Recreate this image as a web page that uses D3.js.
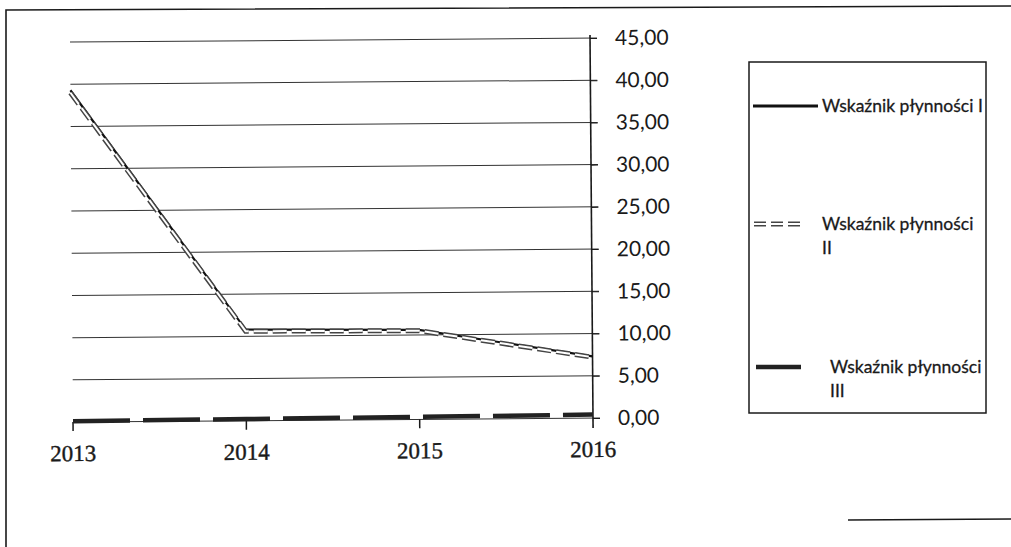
<!DOCTYPE html>
<html>
<head>
<meta charset="utf-8">
<script src="https://cdn.jsdelivr.net/npm/d3@7"></script>
<style>
  html, body { margin: 0; padding: 0; background: #fff; }
  svg { display: block; }
</style>
</head>
<body>
<svg id="chart" width="1011" height="547"></svg>
<script>
// Liquidity ratios, 2013–2016
const years = ["2013", "2014", "2015", "2016"];
const ratioI = [39.3, 10.8, 10.6, 7.3];
const ratioII = [39.0, 10.6, 10.5, 7.2];
const ratioIII = [0.1, 0.2, 0.3, 0.4];
const yTicks = [0, 5, 10, 15, 20, 25, 30, 35, 40, 45];
const seriesNames = ["Wskaźnik płynności I", "Wskaźnik płynności II", "Wskaźnik płynności III"];

const svg = d3.select("#chart");
const ink = "#1a1a1a";

// outer frame of the chart object
svg.append("path")
  .attr("d", "M6,547 L6,10 L1011,6")
  .attr("fill", "none").attr("stroke", ink).attr("stroke-width", 1.6);
svg.append("line")
  .attr("x1", 848).attr("x2", 1011).attr("y1", 520).attr("y2", 519)
  .attr("stroke", ink).attr("stroke-width", 1.4);

const x = d3.scalePoint().domain(years).range([73, 593]);
const y = d3.scaleLinear().domain([0, 45]).range([418, 38]);

// the plot sits slightly tilted on the page
const plot = svg.append("g").attr("transform", "rotate(-0.45, 593, 418)");

// horizontal gridlines
plot.append("g").selectAll("line").data(yTicks).join("line")
  .attr("x1", 73).attr("x2", 600)
  .attr("y1", d => y(d)).attr("y2", d => y(d))
  .attr("stroke", "#333").attr("stroke-width", 1);

// value axis on the right
const yAxis = plot.append("g").attr("transform", "translate(593,0)")
  .call(d3.axisRight(y).tickValues(yTicks).tickSize(7).tickPadding(18)
    .tickFormat(d => d3.format(".2f")(d).replace(".", ",")));
yAxis.select(".domain").remove();
yAxis.selectAll("line").attr("stroke", ink);
yAxis.selectAll("text")
  .attr("font-family", "Lato, 'Open Sans', sans-serif")
  .attr("font-size", 21).attr("fill", ink);
plot.append("line")
  .attr("x1", 593).attr("x2", 593).attr("y1", y(45) - 3).attr("y2", 428)
  .attr("stroke", ink).attr("stroke-width", 1.6);

// category ticks and labels
plot.append("g").selectAll("line").data(years.slice(0, 3)).join("line")
  .attr("x1", d => x(d)).attr("x2", d => x(d))
  .attr("y1", y(0)).attr("y2", y(0) + 9)
  .attr("stroke", ink).attr("stroke-width", 1.5);
plot.append("g").selectAll("text").data(years).join("text")
  .attr("x", d => x(d))
  .attr("y", 457)
  .attr("text-anchor", "middle")
  .attr("font-family", "'Liberation Serif', serif")
  .attr("font-size", 23).attr("fill", ink)
  .attr("stroke", ink).attr("stroke-width", 0.4)
  .text(d => d);

const line = d3.line().x((d, i) => x(years[i])).y(d => y(d));

// series III: thick long dashes along the base
plot.append("path").datum(ratioIII)
  .attr("d", line).attr("fill", "none")
  .attr("stroke", "#222").attr("stroke-width", 4.5)
  .attr("stroke-dasharray", "57,13");

// series I: solid dark line
plot.append("path").datum(ratioI)
  .attr("d", line).attr("fill", "none")
  .attr("stroke", "#111").attr("stroke-width", 2.2);

// series II: hollow dashes
plot.append("path").datum(ratioII)
  .attr("d", line).attr("fill", "none")
  .attr("stroke", "#444").attr("stroke-width", 5)
  .attr("stroke-dasharray", "14,5");
plot.append("path").datum(ratioII)
  .attr("d", line).attr("fill", "none")
  .attr("stroke", "#fff").attr("stroke-width", 2)
  .attr("stroke-dasharray", "14,5");

// legend
const lg = svg.append("g");
lg.append("rect")
  .attr("x", 749).attr("y", 62).attr("width", 237).attr("height", 351)
  .attr("fill", "none").attr("stroke", ink).attr("stroke-width", 1.5);

const legendFont = "Lato, 'Open Sans', sans-serif";
const items = [
  { name: seriesNames[0], y: 106, lines: ["Wskaźnik płynności I"], tx: 822 },
  { name: seriesNames[1], y: 224, lines: ["Wskaźnik płynności", "II"], tx: 822 },
  { name: seriesNames[2], y: 367, lines: ["Wskaźnik płynności", "III"], tx: 830 }
];

// sample I
lg.append("line").attr("x1", 753).attr("x2", 818).attr("y1", 106).attr("y2", 106)
  .attr("stroke", "#111").attr("stroke-width", 3);
// sample II
lg.append("line").attr("x1", 754).attr("x2", 800).attr("y1", 224).attr("y2", 224)
  .attr("stroke", "#444").attr("stroke-width", 5).attr("stroke-dasharray", "12,5");
lg.append("line").attr("x1", 754).attr("x2", 800).attr("y1", 224).attr("y2", 224)
  .attr("stroke", "#fff").attr("stroke-width", 2).attr("stroke-dasharray", "12,5");
// sample III
lg.append("line").attr("x1", 756).attr("x2", 801).attr("y1", 367).attr("y2", 367)
  .attr("stroke", "#222").attr("stroke-width", 4.5);

items.forEach(it => {
  const t = lg.append("text")
    .attr("font-family", legendFont).attr("font-size", 17.5).attr("fill", ink)
    .attr("stroke", ink).attr("stroke-width", 0.3);
  it.lines.forEach((s, k) => {
    t.append("tspan").attr("x", it.tx).attr("y", it.y + 6 + k * 24).text(s);
  });
});
</script>
</body>
</html>
